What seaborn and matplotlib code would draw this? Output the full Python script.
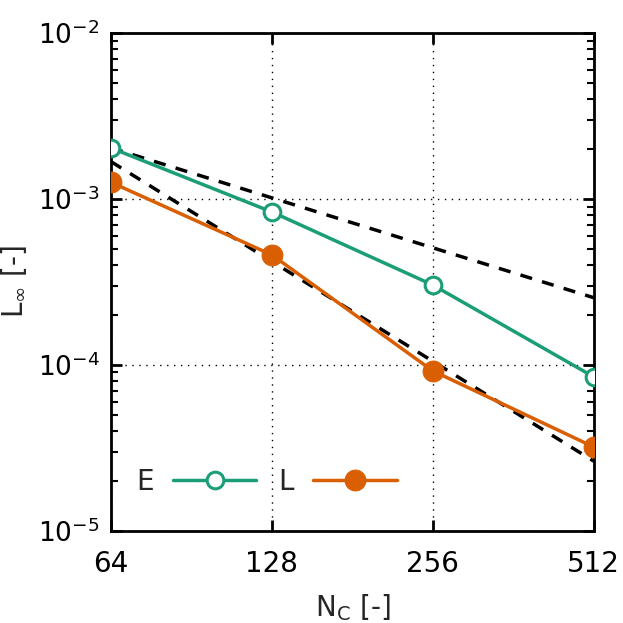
import matplotlib
matplotlib.use("Agg")
import matplotlib.pyplot as plt
import seaborn as sns
import numpy as np
import pandas as pd
from matplotlib.ticker import LogLocator, FixedLocator, NullFormatter

sns.set_style("ticks")
plt.rcParams['font.family'] = ['DejaVu Sans']
plt.rcParams['mathtext.default'] = 'regular'

nc = [64, 128, 256, 512]
err_E = [2.03e-3, 8.35e-4, 3.03e-4, 8.47e-5]
err_L = [1.26e-3, 4.6e-4, 9.2e-5, 3.2e-5]
ref1_x = [64, 512]
ref1_y = [2.03e-3, 2.54e-4]
ref2_x = [64, 512]
ref2_y = [1.68e-3, 2.63e-5]

green = "#1b9e77"
orange = "#d95f02"

df = pd.DataFrame({"Nc": nc * 2, "err": err_E + err_L,
                   "scheme": ["E"] * 4 + ["L"] * 4})

fig, ax = plt.subplots(figsize=(6.23, 6.23), dpi=100)
fig.subplots_adjust(left=0.178, right=0.953, top=0.947, bottom=0.148)

ax.plot(ref1_x, ref1_y, ls=(0, (3.5, 3)), color="black", lw=2.5, zorder=2)
ax.plot(ref2_x, ref2_y, ls=(0, (3.5, 3)), color="black", lw=2.5, zorder=2)

sns.lineplot(data=df[df.scheme == "E"], x="Nc", y="err", ax=ax, color=green,
             lw=2.5, marker="o", markersize=12, markerfacecolor="white",
             markeredgecolor=green, markeredgewidth=2.2, label="E", zorder=3)
sns.lineplot(data=df[df.scheme == "L"], x="Nc", y="err", ax=ax, color=orange,
             lw=2.5, marker="o", markersize=15, markerfacecolor=orange,
             markeredgecolor=orange, label="L", zorder=3)

ax.set_xscale("log", base=2)
ax.set_yscale("log")
ax.set_xlim(64, 512)
ax.set_ylim(1e-5, 1e-2)
ax.xaxis.set_major_locator(FixedLocator(nc))
ax.xaxis.set_minor_locator(FixedLocator([]))
ax.set_xticklabels([str(v) for v in nc])
ax.yaxis.set_major_locator(LogLocator(base=10, numticks=10))
ax.yaxis.set_minor_locator(LogLocator(base=10, subs=np.arange(2, 10), numticks=20))
ax.yaxis.set_minor_formatter(NullFormatter())
ax.yaxis.set_major_formatter(matplotlib.ticker.FuncFormatter(lambda v, p: r"$10^{%d}$" % round(np.log10(v))))

ax.grid(True, which="major", color="black", ls=(0, (1, 4)), lw=1)
for s in ax.spines.values():
    s.set_linewidth(2)
    s.set_color("black")
ax.tick_params(which="both", direction="in", top=True, right=True, labelsize=20, colors="black")
ax.tick_params(axis="y", labelsize=19)
ax.tick_params(which="major", length=8, width=2, pad=8)
ax.tick_params(axis="x", which="major", pad=14)
ax.tick_params(which="minor", length=5, width=1.5)

ax.set_xlabel(r"N$_{\mathrm{C}}$ [-]", fontsize=20, labelpad=10)
ax.set_ylabel(r"L$_{\infty}$ [-]", fontsize=20, labelpad=6)

leg = ax.legend(loc="lower left", bbox_to_anchor=(0.0, 0.02), ncol=2, frameon=False,
                markerfirst=False, fontsize=20, handlelength=3.0, columnspacing=0.8,
                handletextpad=0.7)

fig.savefig("out.png", dpi=100)
